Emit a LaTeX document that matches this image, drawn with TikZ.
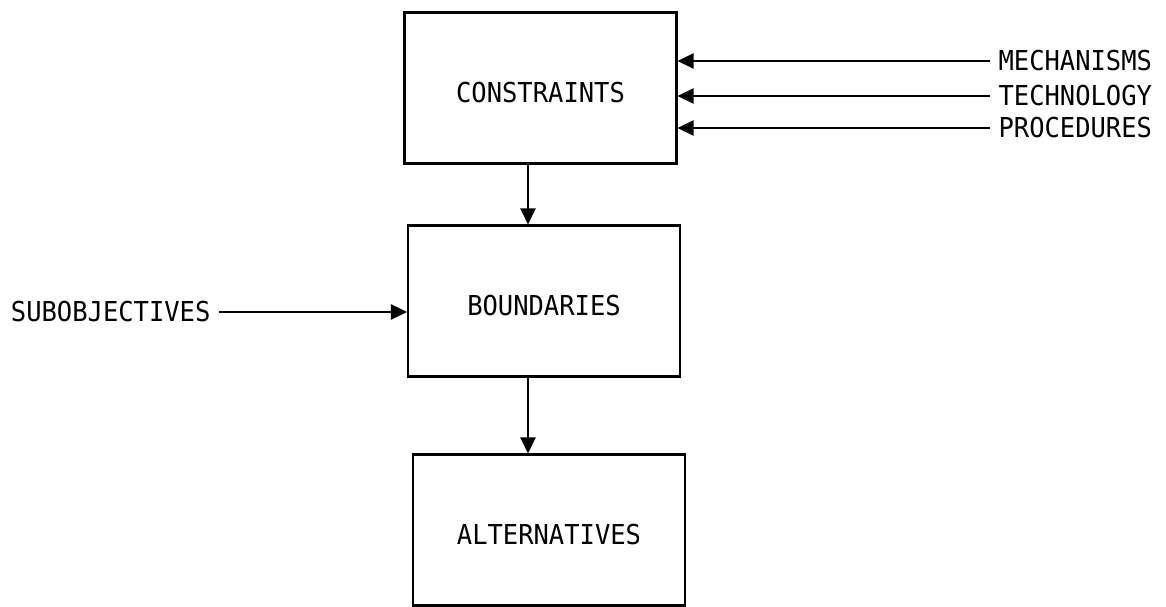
\documentclass[tikz,border=0pt]{standalone}
\usepackage{fontspec}
\newfontfamily\plotter[FakeStretch=0.93]{DejaVu Sans Mono}
\usetikzlibrary{arrows.meta,positioning}

\begin{document}
\begin{tikzpicture}
[x=0.02cm, y=-0.02cm, line width=1.2pt,
font=\plotter\fontsize{15.6pt}{18pt}\selectfont,
% STYLES
block/.style={rectangle, draw, minimum width=5.44cm, minimum height=3.02cm, inner sep=0pt, text height=0.6cm, text depth=0pt},
input/.style={inner sep=0.15cm},
flow/.style={-{Triangle[length=0.32cm,width=0.3cm]}, line width=1.4pt}]

\useasboundingbox (0,0) rectangle (1166,607);

% blocks
\node [block] (constraints) at (540.5,88) {CONSTRAINTS};
\node [block] (boundaries) at (544,301) {BOUNDARIES};
\node [block] (alternatives) at (549,530) {ALTERNATIVES};

% inputs
\node [input, anchor=west] (mech) at (990,61) {MECHANISMS};
\node [input, anchor=west] (tech) at (990,96) {TECHNOLOGY};
\node [input, anchor=west] (proc) at (990,128) {PROCEDURES};
\node [input, anchor=east] (subobj) at (219,312) {SUBOBJECTIVES};

\coordinate (spine) at (528,0);

%%%%%%%%%%%%%%%%

\path[flow]
(mech.west) edge (mech.west -| constraints.east)
(tech.west) edge (tech.west -| constraints.east)
(proc.west) edge (proc.west -| constraints.east)
(subobj.east) edge (subobj.east -| boundaries.west);

\draw[flow] (constraints.south -| spine) -- (boundaries.north -| spine);
\draw[flow] (boundaries.south -| spine) -- (alternatives.north -| spine);

\end{tikzpicture}
\end{document}
